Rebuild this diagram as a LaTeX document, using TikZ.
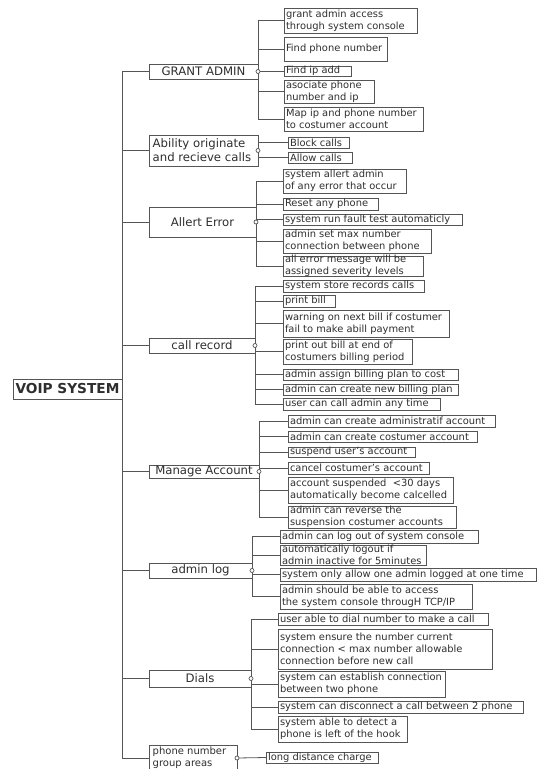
\documentclass[tikz,border=0pt]{standalone}
\usepackage{fontspec}
\setmainfont{DejaVu Sans}
\definecolor{inkc}{HTML}{2E2E2E}
\definecolor{linec}{HTML}{555555}
\tikzset{
  cbox/.style={draw=linec,line width=0.8pt,inner sep=0pt,outer sep=0pt,rectangle},
  ctext/.style={inner sep=0pt,align=left,text=inkc,font=\fontsize{9.9}{11.9}\selectfont},
  ptext/.style={inner sep=0pt,text=inkc,font=\fontsize{11.7}{13.8}\selectfont},
  conn/.style={draw=linec,line width=0.8pt},
  dotc/.style={circle,draw=linec,fill=white,line width=0.7pt,minimum size=4pt,inner sep=0pt}
}
\newcommand\myBox[5]{%
  \pgfmathsetmacro\myBW{#4-#2}\pgfmathsetmacro\myBH{#5-#3}%
  \node[cbox,minimum width=\myBW pt,minimum height=\myBH pt,anchor=north west] (#1) at (#2,#3) {};}
\newcommand\cbx[6]{\myBox{#1}{#2}{#3}{#4}{#5}%
  \node[ctext,anchor=west] (#1-t) at ([xshift=1.8pt]#1.west) {#6};}
\newcommand\pbc[6]{\myBox{#1}{#2}{#3}{#4}{#5}%
  \node[ptext,align=center] (#1-t) at (#1.center) {#6};}
\newcommand\pbl[6]{\myBox{#1}{#2}{#3}{#4}{#5}%
  \node[ptext,align=left,anchor=west] (#1-t) at ([xshift=3.5pt]#1.west) {#6};}
\begin{document}
\begin{tikzpicture}[x=1pt,y=-1pt]
\useasboundingbox (0,0) rectangle (537,769);
\clip (0,0) rectangle (537,769);
% root
\myBox{voip}{13}{379}{122}{399}
\node[inner sep=0pt,text=inkc,font=\fontsize{13.7}{16}\bfseries] (voip-t) at (voip.center) {VOIP SYSTEM};
% GRANT ADMIN
\pbc{ga}{149}{64}{258}{79}{GRANT ADMIN}
\cbx{ga1}{284}{8}{417}{33}{grant admin access\\through system console}
\cbx{ga2}{284}{37}{387}{61}{Find phone number}
\cbx{ga3}{284}{66}{351}{76}{Find ip add}
\cbx{ga4}{284}{80}{374}{103}{asociate phone\\number and ip}
\cbx{ga5}{284}{107}{423}{131}{Map ip and phone number\\to costumer account}
% Ability
\pbl{ab}{149}{135}{258}{166}{Ability originate\\and recieve calls}
\cbx{ab1}{288}{137}{349}{148}{Block calls}
\cbx{ab2}{288}{152}{352}{163}{Allow calls}
% Allert Error
\pbc{ae}{149}{207}{256}{237}{Allert Error}
\cbx{ae1}{283}{169}{406}{193}{system allert admin\\of any error that occur}
\cbx{ae2}{283}{198}{378}{210}{Reset any phone}
\cbx{ae3}{283}{214}{462}{225}{system run fault test automaticly}
\cbx{ae4}{283}{229}{431}{253}{admin set max number\\connection between phone}
\cbx{ae5}{283}{256}{423}{276}{all error message will be\\assigned severity levels}
% call record
\pbc{cr}{149}{338}{255}{353}{call record}
\cbx{cr1}{283}{280}{424}{292}{system store records calls}
\cbx{cr2}{283}{295}{335}{307}{print bill}
\cbx{cr3}{283}{310}{449}{337}{warning on next bill if costumer\\ fail to make abill payment}
\cbx{cr4}{283}{339}{412}{364}{print out bill at end of\\costumers billing period}
\cbx{cr5}{283}{369}{458}{380}{admin assign billing plan to cost}
\cbx{cr6}{283}{384}{458}{395}{admin can create new billing plan}
\cbx{cr7}{283}{398}{440}{410}{user can call admin any time}
% Manage Account
\pbc{ma}{149}{465}{259}{478}{Manage Account}
\cbx{ma1}{288}{415}{495}{427}{admin can create administratif account}
\cbx{ma2}{288}{431}{477}{442}{admin can create costumer account}
\cbx{ma3}{288}{447}{415}{457}{suspend user's account}
\cbx{ma4}{288}{462}{429}{474}{cancel costumer's account}
\cbx{ma5}{288}{477}{453}{503}{account suspended \ <30 days\\automatically become calcelled}
\cbx{ma6}{288}{506}{456}{528}{admin can reverse the\\suspension costumer accounts}
% admin log
\pbc{al}{149}{563}{252}{578}{admin log}
\cbx{al1}{280}{530}{478}{543}{admin can log out of system console}
\cbx{al2}{280}{545}{426}{565}{automatically logout if\\admin inactive for 5minutes}
\cbx{al3}{280}{568}{536}{581}{system only allow one admin logged at one time}
\cbx{al4}{280}{584}{472}{609}{admin should be able to access\\the system console througH TCP/IP}
% Dials
\pbc{di}{149}{670}{251}{687}{Dials}
\cbx{di1}{278}{613}{488}{625}{user able to dial number to make a call}
\cbx{di2}{278}{629}{492}{669}{system ensure the number current\\connection < max number allowable\\connection before new call}
\cbx{di3}{278}{671}{445}{697}{system can establish connection\\ between two phone}
\cbx{di4}{278}{701}{523}{713}{system can disconnect a call between 2 phone}
\cbx{di5}{278}{716}{407}{742}{system able to detect a\\phone is left of the hook}
% phone number group areas
\myBox{pn}{149}{745}{237}{771}
\node[ctext,anchor=west,font=\fontsize{10}{12}\selectfont] (pn-t) at ([xshift=3.5pt]pn.west) {phone number\\group areas};
\cbx{pn1}{266}{752}{378}{763}{long distance charge}
% trunk
\foreach \p in {ga,ab,ae,cr,ma,al,di,pn} \draw[conn] (voip.east) |- (\p.west);
% branches
\foreach \c in {1,...,5} \draw[conn] (ga.east) |- (ga\c.west);
\foreach \c in {1,2} \draw[conn] (ab.east) |- (ab\c.west);
\foreach \c in {1,...,5} \draw[conn] (ae.east) |- (ae\c.west);
\foreach \c in {1,...,7} \draw[conn] (cr.east) |- (cr\c.west);
\foreach \c in {1,...,6} \draw[conn] (ma.east) |- (ma\c.west);
\foreach \c in {1,...,4} \draw[conn] (al.east) |- (al\c.west);
\foreach \c in {1,...,5} \draw[conn] (di.east) |- (di\c.west);
\draw[conn] (pn.east) -- (pn1.west);
% dots
\foreach \p in {ga,ab,ae,cr,ma,al,di,pn} \node[dotc] (\p-d) at (\p.east) {};
\end{tikzpicture}
\end{document}
